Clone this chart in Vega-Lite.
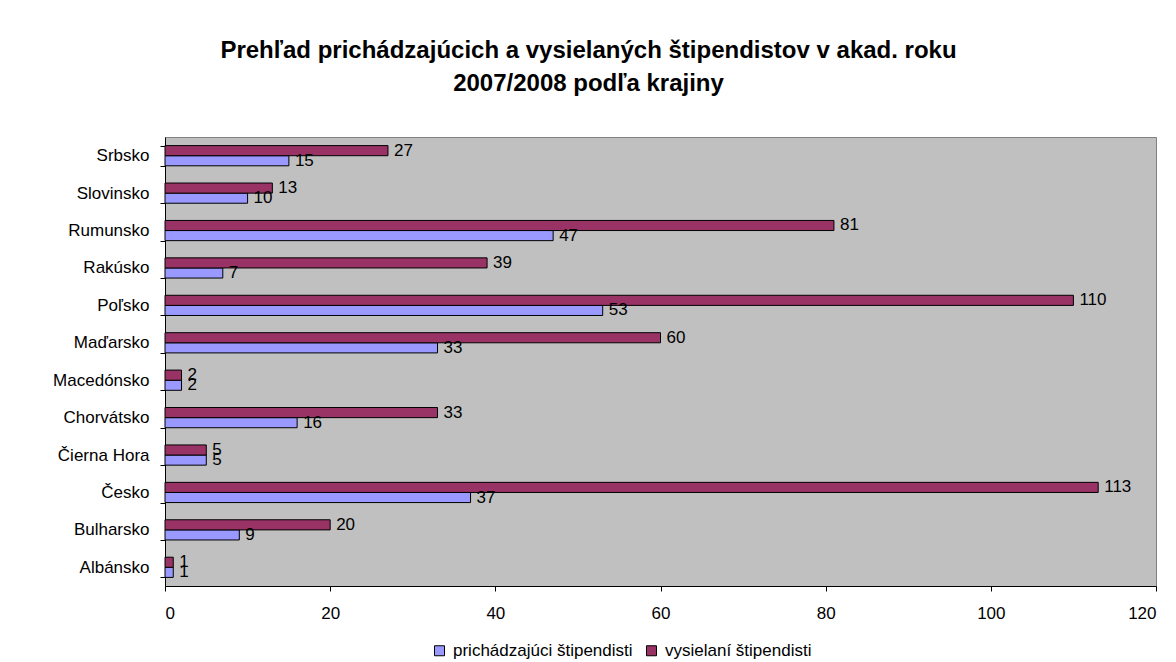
{
  "$schema": "https://vega.github.io/schema/vega-lite/v6.json",
  "width": 991,
  "height": 449,
  "autosize": {"type": "none"},
  "padding": {"left": 165, "top": 137, "right": 20, "bottom": 76},
  "background": "white",
  "title": {
    "text": ["Prehľad prichádzajúcich a vysielaných štipendistov v akad. roku", "2007/2008 podľa krajiny"],
    "font": "Liberation Sans",
    "fontSize": 24,
    "fontWeight": "bold",
    "color": "black",
    "anchor": "middle",
    "frame": "group",
    "dx": -72,
    "offset": 32,
    "lineHeight": 33
  },
  "config": {
    "font": "Liberation Sans",
    "view": {"fill": "#C0C0C0", "stroke": "#808080"},
    "axis": {"labelFont": "Liberation Sans", "labelFontSize": 17, "labelColor": "black", "domainColor": "black", "tickColor": "black", "grid": false, "title": null}
  },
  "data": {
    "values": [
      {"krajina": "Srbsko", "typ": "prichádzajúci štipendisti", "pocet": 15},
      {"krajina": "Srbsko", "typ": "vysielaní štipendisti", "pocet": 27},
      {"krajina": "Slovinsko", "typ": "prichádzajúci štipendisti", "pocet": 10},
      {"krajina": "Slovinsko", "typ": "vysielaní štipendisti", "pocet": 13},
      {"krajina": "Rumunsko", "typ": "prichádzajúci štipendisti", "pocet": 47},
      {"krajina": "Rumunsko", "typ": "vysielaní štipendisti", "pocet": 81},
      {"krajina": "Rakúsko", "typ": "prichádzajúci štipendisti", "pocet": 7},
      {"krajina": "Rakúsko", "typ": "vysielaní štipendisti", "pocet": 39},
      {"krajina": "Poľsko", "typ": "prichádzajúci štipendisti", "pocet": 53},
      {"krajina": "Poľsko", "typ": "vysielaní štipendisti", "pocet": 110},
      {"krajina": "Maďarsko", "typ": "prichádzajúci štipendisti", "pocet": 33},
      {"krajina": "Maďarsko", "typ": "vysielaní štipendisti", "pocet": 60},
      {"krajina": "Macedónsko", "typ": "prichádzajúci štipendisti", "pocet": 2},
      {"krajina": "Macedónsko", "typ": "vysielaní štipendisti", "pocet": 2},
      {"krajina": "Chorvátsko", "typ": "prichádzajúci štipendisti", "pocet": 16},
      {"krajina": "Chorvátsko", "typ": "vysielaní štipendisti", "pocet": 33},
      {"krajina": "Čierna Hora", "typ": "prichádzajúci štipendisti", "pocet": 5},
      {"krajina": "Čierna Hora", "typ": "vysielaní štipendisti", "pocet": 5},
      {"krajina": "Česko", "typ": "prichádzajúci štipendisti", "pocet": 37},
      {"krajina": "Česko", "typ": "vysielaní štipendisti", "pocet": 113},
      {"krajina": "Bulharsko", "typ": "prichádzajúci štipendisti", "pocet": 9},
      {"krajina": "Bulharsko", "typ": "vysielaní štipendisti", "pocet": 20},
      {"krajina": "Albánsko", "typ": "prichádzajúci štipendisti", "pocet": 1},
      {"krajina": "Albánsko", "typ": "vysielaní štipendisti", "pocet": 1}
    ]
  },
  "encoding": {
    "y": {
      "field": "krajina",
      "type": "nominal",
      "sort": ["Srbsko", "Slovinsko", "Rumunsko", "Rakúsko", "Poľsko", "Maďarsko", "Macedónsko", "Chorvátsko", "Čierna Hora", "Česko", "Bulharsko", "Albánsko"],
      "scale": {"paddingInner": 0.46, "paddingOuter": 0.23},
      "axis": {"tickBand": "extent", "tickSize": 5, "labelPadding": 11, "domain": true}
    },
    "yOffset": {
      "field": "typ",
      "type": "nominal",
      "sort": ["vysielaní štipendisti", "prichádzajúci štipendisti"],
      "scale": {"paddingInner": 0, "paddingOuter": 0}
    },
    "x": {
      "field": "pocet",
      "type": "quantitative",
      "scale": {"domain": [0, 120], "nice": false},
      "axis": {"values": [0, 20, 40, 60, 80, 100, 120], "tickSize": 5, "labelPadding": 14}
    }
  },
  "layer": [
    {
      "mark": {"type": "bar", "stroke": "black", "strokeWidth": 1},
      "encoding": {
        "color": {
          "field": "typ",
          "type": "nominal",
          "scale": {"domain": ["prichádzajúci štipendisti", "vysielaní štipendisti"], "range": ["#9999FF", "#993366"]},
          "legend": {
            "title": null,
            "orient": "none",
            "direction": "horizontal",
            "legendX": 266,
            "legendY": 505,
            "symbolType": "square",
            "symbolSize": 100,
            "symbolStrokeColor": "black",
            "symbolStrokeWidth": 1,
            "labelFontSize": 17,
            "labelFont": "Liberation Sans",
            "labelColor": "black",
            "labelLimit": 0,
            "columnPadding": 10,
            "labelOffset": 5
          }
        }
      }
    },
    {
      "mark": {"type": "text", "align": "left", "baseline": "middle", "dx": 6, "fontSize": 17, "font": "Liberation Sans", "color": "black"},
      "encoding": {"text": {"field": "pocet", "type": "quantitative"}}
    }
  ]
}
